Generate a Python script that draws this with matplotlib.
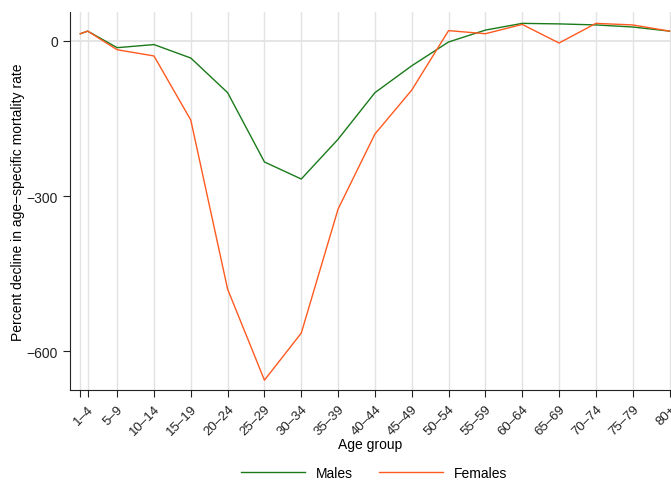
import matplotlib
matplotlib.use("Agg")
import matplotlib.pyplot as plt

plt.rcParams["font.family"] = ["Liberation Sans", "DejaVu Sans"]

# age group start (0 = infants, no label)
ages = [0, 1, 5, 10, 15, 20, 25, 30, 35, 40, 45, 50, 55, 60, 65, 70, 75, 80]
tick_labels = ["", "1–4", "5–9", "10–14", "15–19", "20–24", "25–29", "30–34",
               "35–39", "40–44", "45–49", "50–54", "55–59", "60–64", "65–69",
               "70–74", "75–79", "80+"]
males = [14, 19, -13, -7, -33, -100, -234, -267, -190, -100, -48, -2,
         21, 34, 33, 31, 27, 19]
females = [14, 19, -17, -29, -153, -480, -656, -565, -325, -180, -95, 20,
           14, 32, -4, 34, 31, 19]

fig = plt.figure(figsize=(6.71, 4.81), dpi=100)
ax = fig.add_axes([70 / 671, 90 / 481, 601 / 671, 378 / 481])

ax.axhline(0, color="#e0e0e0", lw=1.2, zorder=0)
ax.plot(ages, males, color="#1a7a1a", lw=1.0, label="Males")
ax.plot(ages, females, color="#ff5a1f", lw=1.0, label="Females")

ax.set_xlim(-1.4, 80.2)
ax.set_ylim(-675, 56)
ax.set_xticks(ages)
ax.set_xticklabels(tick_labels, rotation=45, ha="right", rotation_mode="anchor",
                   fontsize=9.5)
ax.set_yticks([0, -300, -600])
ax.set_yticklabels(["0", "−300", "−600"], fontsize=10)
ax.grid(True, axis="x", color="#e3e3e3", lw=1.0)
ax.set_axisbelow(True)
for s in ["top", "right"]:
    ax.spines[s].set_visible(False)
for s in ["left", "bottom"]:
    ax.spines[s].set_color("#222222")
ax.tick_params(colors="#222222", length=5)
ax.tick_params(axis="x", pad=4)

ax.set_xlabel("Age group", fontsize=10, labelpad=0)
ax.set_ylabel("Percent decline in age−specific mortality rate", fontsize=10,
              labelpad=1)

fig.legend(loc="center", bbox_to_anchor=(374 / 671, 1 - 474 / 481), ncol=2,
           frameon=False, fontsize=10, handlelength=4.6, columnspacing=1.9)

fig.savefig("out.png", dpi=100)
